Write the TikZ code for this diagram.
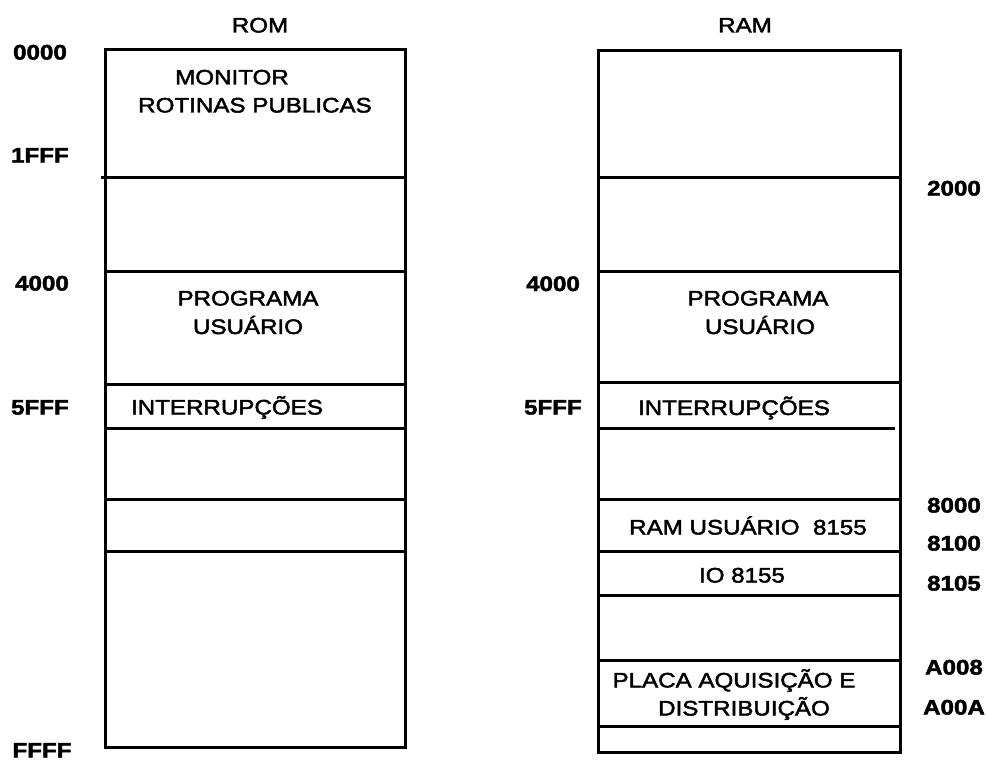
\documentclass[tikz,border=0pt]{standalone}
\usepackage{fontspec}
\setmainfont{Liberation Sans}[FakeStretch=1.15,FakeBold=2.2]
\begin{document}
\begin{tikzpicture}[x=1pt,y=-1pt,line width=3pt,
  lbl/.style={font=\fontsize{21}{25}\selectfont, inner sep=0pt, anchor=base},
  addr/.style={lbl, font=\fontsize{21}{25}\selectfont\bfseries},
  membox/.style={draw, line width=3pt}]
\useasboundingbox (0,0) rectangle (986,760);
% ROM column
\draw[membox] (105,50) rectangle (405,747);
\draw (101,177) -- (405,177);
\draw (105,271) -- (405,271);
\draw (105,384) -- (405,384);
\draw (105,428) -- (405,428);
\draw (105,499) -- (405,499);
\draw (105,551) -- (405,551);
% RAM column
\draw[membox] (598,51) rectangle (900,752);
\draw (598,177) -- (900,177);
\draw (598,271) -- (900,271);
\draw (598,382) -- (900,382);
\draw (598,428) -- (895,428);
\draw (598,499) -- (900,499);
\draw (598,551) -- (900,551);
\draw (598,595) -- (900,595);
\draw (598,660) -- (900,660);
\draw (598,726) -- (900,726);
% titles
\node[lbl] (romt) at (260,32.5) {ROM};
\node[lbl] (ramt) at (745,32.5) {RAM};
% ROM labels
\node[addr] (a0000) at (40,59.5) {0000};
\node[addr] (a1fff) at (40,162.5) {1FFF};
\node[addr] (a4000l) at (42,290.5) {4000};
\node[addr] (a5fffl) at (40,414.5) {5FFF};
\node[addr] (affff) at (42,757.5) {FFFF};
\node[lbl] (mon) at (232,84.5) {MONITOR};
\node[lbl] (rot) at (255,112.5) {ROTINAS PUBLICAS};
\node[lbl] (prgl) at (248,305.5) {PROGRAMA};
\node[lbl] (usul) at (248,334) {USUÁRIO};
\node[lbl] (intl) at (227,414.5) {INTERRUPÇÕES};
% RAM labels
\node[addr] (a4000r) at (553,291) {4000};
\node[addr] (a5fffr) at (553,414.5) {5FFF};
\node[addr] (a2000) at (954,195.5) {2000};
\node[addr] (a8000) at (954,512.5) {8000};
\node[addr] (a8100) at (954,550.5) {8100};
\node[addr] (a8105) at (954,590.5) {8105};
\node[addr] (aa008) at (954,674.5) {A008};
\node[addr] (aa00a) at (954,714.5) {A00A};
\node[lbl] (prgr) at (758,305.5) {PROGRAMA};
\node[lbl] (usur) at (760,334) {USUÁRIO};
\node[lbl] (intr) at (734,415) {INTERRUPÇÕES};
\node[lbl] (ramu) at (748,534.5) {RAM USUÁRIO\ \ 8155};
\node[lbl] (io) at (742,582.5) {IO 8155};
\node[lbl] (placa) at (734,687.5) {PLACA AQUISIÇÃO E};
\node[lbl] (dist) at (744,715.5) {DISTRIBUIÇÃO};
\end{tikzpicture}
\end{document}
